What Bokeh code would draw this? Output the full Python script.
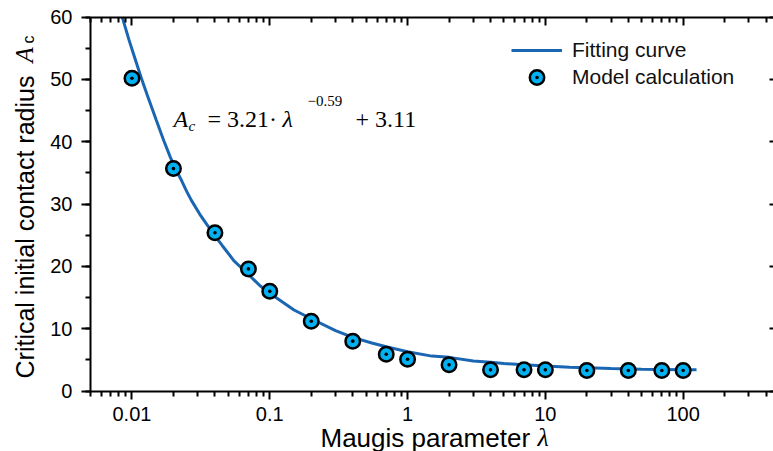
import math
from bokeh.plotting import figure
from bokeh.models import (Range1d, LogAxis, LinearAxis, FixedTicker, SingleIntervalTicker,
                          CustomJSTickFormatter, Legend, LegendItem, Label)
from bokeh.embed import file_html
from bokeh.resources import INLINE

# ---------------- data ----------------
model_lambda = [0.01, 0.02, 0.04, 0.07, 0.1, 0.2, 0.4, 0.7, 1, 2, 4, 7, 10, 20, 40, 70, 100]
model_Ac = [50.2, 35.7, 25.4, 19.6, 16.0, 11.2, 8.0, 5.9, 5.1, 4.2, 3.4, 3.4, 3.4, 3.3, 3.3, 3.3, 3.3]

fit_lambda = [0.0085, 0.0095, 0.0105, 0.0117, 0.013, 0.015, 0.017, 0.019, 0.021, 0.023, 0.025,
              0.027, 0.031, 0.035, 0.04, 0.045, 0.055, 0.07, 0.085, 0.1, 0.15, 0.2, 0.3, 0.4,
              0.55, 0.7, 1, 1.5, 2, 3, 4, 5, 7, 10, 15, 20, 30, 50, 70, 100, 125]
fit_Ac = [60.0, 56.4, 53.4, 50.2, 47.3, 43.5, 40.2, 37.5, 35.4, 33.7, 32.0,
          30.6, 28.4, 26.7, 24.9, 23.4, 20.9, 18.7, 16.9, 15.7, 13.0, 11.6, 9.7, 8.6,
          7.7, 7.1, 6.3, 5.6, 5.4, 4.8, 4.6, 4.4, 4.2, 4.0, 3.8, 3.75, 3.6, 3.5, 3.45, 3.4, 3.4]

x_major_ticks = [0.01, 0.1, 1, 10, 100]
x_tick_labels = ["0.01", "0.1", "1", "10", "100"]
x_axis_span = (0.005, 500)
y_axis_span = (0, 60)
x_minor_ticks = [k * 10.0 ** e for e in range(-3, 3) for k in range(2, 10)
                 if x_axis_span[0] * 0.999 <= k * 10.0 ** e <= x_axis_span[1] * 1.001]

# ---------------- styling ----------------
SANS = "Liberation Sans"
SERIF = "Liberation Serif"
CURVE = "#1a66b2"
FILL = "#00b0f0"

# The frame covers the whole canvas; axes are pinned with fixed_location so that
# all titles can be drawn as plain text labels inside the frame.
p = figure(width=773, height=451, x_axis_type="log",
           x_axis_location=None, y_axis_location=None,
           x_range=Range1d(0.0011115, 452.4), y_range=Range1d(-9.71, 62.68),
           output_backend="svg", toolbar_location=None,
           min_border=0, min_border_left=0, min_border_right=0,
           min_border_top=0, min_border_bottom=0)
p.outline_line_color = None
p.background_fill_color = "white"
p.border_fill_color = "white"
for g in p.grid:
    g.visible = False

line_r = p.line(fit_lambda, fit_Ac, line_color=CURVE, line_width=3)
pts_r = p.scatter(model_lambda, model_Ac, marker="circle_dot", size=14.5,
                  fill_color=FILL, line_color="black", line_width=2.5)

fmt = CustomJSTickFormatter(args=dict(vals=x_major_ticks, labels=x_tick_labels), code="""
for (let i = 0; i < vals.length; i++) {
  if (Math.abs(Math.log10(tick) - Math.log10(vals[i])) < 1e-6) return labels[i];
}
return '';
""")
blank = CustomJSTickFormatter(code="return '';")
xticker = FixedTicker(ticks=x_major_ticks, minor_ticks=x_minor_ticks)


def style_axis(ax):
    ax.axis_line_color = "black"
    ax.axis_line_width = 2
    ax.major_tick_line_color = "black"
    ax.major_tick_line_width = 2
    ax.minor_tick_line_color = "black"
    ax.minor_tick_line_width = 2
    ax.major_label_text_font = SANS
    ax.major_label_text_font_size = "20px"
    ax.major_label_text_color = "black"


bottom = LogAxis(ticker=xticker, formatter=fmt, fixed_location=y_axis_span[0], bounds=x_axis_span)
style_axis(bottom)
bottom.major_tick_out = 8
bottom.major_tick_in = 0
bottom.minor_tick_out = 5
bottom.minor_tick_in = 0
bottom.major_label_standoff = 8
p.add_layout(bottom, "below")

left = LinearAxis(ticker=SingleIntervalTicker(interval=10, num_minor_ticks=2),
                  fixed_location=x_axis_span[0], bounds=y_axis_span)
style_axis(left)
left.major_tick_out = 9
left.major_tick_in = 0
left.minor_tick_out = 5
left.minor_tick_in = 0
left.major_label_standoff = 9
p.add_layout(left, "left")

top = LogAxis(ticker=xticker, formatter=blank, fixed_location=y_axis_span[1], bounds=x_axis_span)
style_axis(top)
top.major_label_standoff = 0
top.major_tick_out = 0
top.major_tick_in = 8
top.minor_tick_out = 0
top.minor_tick_in = 5
p.add_layout(top, "above")

right = LinearAxis(ticker=SingleIntervalTicker(interval=10, num_minor_ticks=0), formatter=blank,
                   fixed_location=x_axis_span[1], bounds=y_axis_span)
style_axis(right)
right.major_label_standoff = 0
right.major_tick_out = 0
right.major_tick_in = 10
right.minor_tick_out = 0
right.minor_tick_in = 0
p.add_layout(right, "right")

# ---------------- legends ----------------
def make_legend(item, loc):
    lg = Legend(items=[item], location=loc, orientation="vertical")
    lg.border_line_color = None
    lg.background_fill_alpha = 0
    lg.padding = 0
    lg.margin = 0
    lg.glyph_width = 51
    lg.glyph_height = 36
    lg.label_height = 36
    lg.label_standoff = 10
    lg.label_text_font = SANS
    lg.label_text_font_size = "21px"
    lg.label_text_color = "#111111"
    p.add_layout(lg)


make_legend(LegendItem(label="Fitting curve", renderers=[line_r]), (511, 383))
make_legend(LegendItem(label="Model calculation", renderers=[pts_r]), (511, 356))

# ---------------- text labels ----------------
SHIFT = 8  # compensate the renderer's baseline offset


def lab(text, x, y, font, size, style="normal", angle=0.0):
    if angle:
        x -= SHIFT
    else:
        y += SHIFT
    p.add_layout(Label(x=x, y=y, x_units="screen", y_units="screen", text=text,
                       text_font=font, text_font_size=size, text_font_style=style,
                       text_color="black", text_align="left", text_baseline="alphabetic",
                       angle=angle))


# y axis title
lab("Critical initial contact radius", 32, 73, SANS, "25px", angle=math.pi / 2)
lab("A", 32, 389, SERIF, "25px", "italic", angle=math.pi / 2)
lab("c", 36, 408, SANS, "16px", angle=math.pi / 2)

# x axis title
lab("Maugis parameter", 320, 6, SANS, "26px")
lab("λ", 537, 6, SERIF, "26px", "italic")

# fitted equation
lab("A", 173, 325, SERIF, "24px", "italic")
lab("c", 188, 318, SERIF, "15px", "italic")
lab("= 3.21·", 207, 325, SERIF, "24px")
lab("λ", 282, 325, SERIF, "24px", "italic")
lab("−0.59", 307, 343, SERIF, "15px")
lab("+ 3.11", 355, 325, SERIF, "24px")

open("out.html", "w").write(file_html(p, INLINE))
